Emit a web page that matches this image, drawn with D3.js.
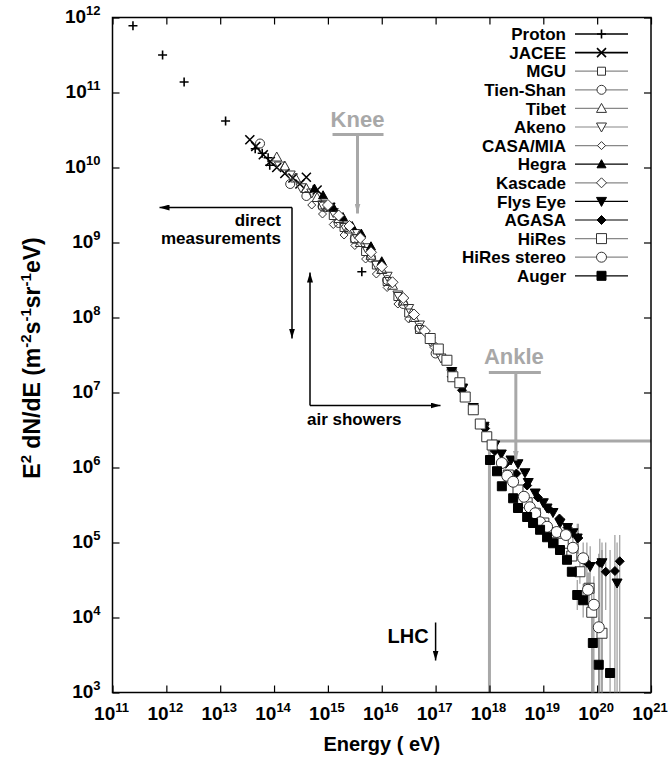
<!DOCTYPE html>
<html>
<head>
<meta charset="utf-8">
<script src="https://cdn.jsdelivr.net/npm/d3@7"></script>
<style>
  body { margin: 0; background: #fff; }
  text { font-family: "Liberation Sans", Arial, Helvetica, sans-serif; font-weight: bold; }
</style>
</head>
<body>
<div id="chart"></div>
<script>
// all values are log10: E in eV, F = E^2 dN/dE
const protonE = [11.38, 11.93, 12.33, 13.10, 13.65, 13.78, 13.89, 13.92, 15.63];
const protonF = [11.89, 11.50, 11.14, 10.62, 10.25, 10.19, 10.13, 10.03, 8.61];

const jaceeE = [13.55, 13.66, 13.80, 13.93, 14.05, 14.20, 14.35, 14.48, 14.60, 14.80, 15.05];
const jaceeF = [10.37, 10.28, 10.17, 10.08, 10.00, 9.92, 9.86, 9.78, 9.87, 9.70, 9.47];

const mguE = [14.9, 15.1, 15.3, 15.5, 15.7, 15.9, 16.1, 16.3, 16.5, 16.7];
const mguF = [9.50, 9.36, 9.20, 9.05, 8.88, 8.70, 8.48, 8.28, 8.06, 7.84];

const tienShanE = [13.74, 14.30, 14.60, 14.90, 15.20, 15.50, 15.80, 16.10, 16.40, 16.70, 17.00];
const tienShanF = [10.32, 9.78, 9.62, 9.48, 9.26, 9.05, 8.80, 8.50, 8.18, 7.86, 7.52];

const tibetE = [14.05, 14.20, 14.40, 14.60, 14.80, 15.00, 15.20, 15.40, 15.60, 15.80, 16.00, 16.20, 16.40, 16.60];
const tibetF = [10.14, 10.02, 9.86, 9.72, 9.60, 9.47, 9.32, 9.18, 9.00, 8.83, 8.64, 8.43, 8.22, 8.00];

const akenoE = [14.1, 14.3, 14.5, 14.7, 14.9, 15.1, 15.3, 15.5, 15.7, 15.9, 16.1, 16.3, 16.5, 16.7, 16.9, 17.1, 17.3, 17.5, 17.7, 17.9];
const akenoF = [10.02, 9.90, 9.73, 9.66, 9.50, 9.40, 9.22, 9.12, 8.93, 8.70, 8.55, 8.30, 8.12, 7.90, 7.68, 7.46, 7.25, 7.05, 6.78, 6.52];

const casaMiaE = [14.7, 14.9, 15.1, 15.3, 15.5, 15.7, 15.9, 16.1, 16.3, 16.5];
const casaMiaF = [9.50, 9.38, 9.24, 9.10, 8.96, 8.78, 8.58, 8.40, 8.18, 7.98];

const hegraE = [14.75, 14.91, 15.10, 15.28, 15.45, 15.62, 15.80, 16.00];
const hegraF = [9.72, 9.63, 9.47, 9.34, 9.22, 9.12, 8.95, 8.75];

const kascadeE = [15.0, 15.2, 15.4, 15.6, 15.8, 16.0, 16.2, 16.4, 16.6, 16.8, 17.0];
const kascadeF = [9.50, 9.36, 9.22, 9.06, 8.87, 8.68, 8.47, 8.26, 8.04, 7.82, 7.60];

const flysEyeE = [17.3, 17.5, 17.7, 17.9, 18.1, 18.22, 18.4, 18.53, 18.66, 18.72, 18.85, 19.0, 19.07, 19.18, 19.31, 19.45, 19.55, 19.63, 19.87, 20.09, 20.37];
const flysEyeF = [7.28, 7.06, 6.80, 6.55, 6.30, 6.18, 6.10, 6.05, 5.93, 5.80, 5.66, 5.53, 5.46, 5.40, 5.26, 5.20, 5.13, 5.06, 4.68, 4.73, 4.46];

const agasaE = [17.30, 17.49, 17.70, 17.92, 18.10, 18.30, 18.50, 18.70, 18.90, 19.10, 19.30, 19.45, 19.65, 19.81, 20.05, 20.16, 20.33, 20.42];
const agasaF = [7.21, 7.03, 6.77, 6.52, 6.22, 6.05, 5.92, 5.76, 5.60, 5.45, 5.32, 5.20, 5.06, 4.73, 4.73, 4.61, 4.62, 4.75];

const hiresE = [16.90, 17.05, 17.21, 17.32, 17.45, 17.55, 17.70, 17.83, 17.95, 18.05, 18.35, 18.53, 18.70, 18.85, 19.01, 19.18, 19.37, 19.53, 19.68, 19.85, 19.90, 20.09];
const hiresF = [7.72, 7.58, 7.43, 7.21, 7.13, 6.94, 6.77, 6.58, 6.41, 6.30, 5.90, 5.70, 5.53, 5.39, 5.26, 5.13, 4.99, 4.82, 4.61, 4.39, 4.07, 3.79];

const hiresStereoE = [18.23, 18.33, 18.44, 18.64, 18.75, 18.85, 18.94, 19.07, 19.25, 19.42, 19.55, 19.74, 19.83, 19.94, 20.03];
const hiresStereoF = [6.06, 5.89, 5.81, 5.61, 5.47, 5.39, 5.27, 5.21, 5.14, 5.10, 4.93, 4.79, 4.37, 4.17, 3.87];

const augerE = [18.01, 18.14, 18.23, 18.44, 18.53, 18.70, 18.81, 18.94, 19.07, 19.18, 19.31, 19.44, 19.53, 19.63, 19.74, 19.92, 20.03, 20.24];
const augerF = [6.10, 5.95, 5.75, 5.59, 5.46, 5.34, 5.26, 5.17, 5.07, 4.99, 4.90, 4.77, 4.61, 4.30, 4.23, 3.66, 3.37, 3.26];

// error bars: [log E, log low, log high]
const flysEyeErr = [[19.63, 4.85, 5.25], [19.87, 4.30, 4.95], [20.09, 2.5, 5.00], [20.37, 2.5, 5.00]];
const agasaErr = [[19.65, 4.85, 5.25], [19.81, 4.40, 5.00], [20.05, 2.5, 5.05], [20.16, 4.10, 5.00], [20.33, 2.5, 5.10], [20.42, 2.5, 5.10]];
const hiresErr = [[19.68, 4.45, 4.78], [19.85, 4.15, 4.60], [19.90, 2.5, 4.45], [20.09, 2.5, 4.90]];
const hiresStereoErr = [[19.55, 4.75, 5.10], [19.74, 4.55, 5.00], [19.83, 4.10, 4.60], [19.94, 2.5, 4.55], [20.03, 2.5, 4.85]];
const augerErr = [[19.63, 4.10, 4.50], [19.74, 4.00, 4.45], [19.92, 2.5, 4.20], [20.03, 2.5, 4.00], [20.24, 2.5, 4.90]];

const xTicks = [11, 12, 13, 14, 15, 16, 17, 18, 19, 20, 21];
const yTicks = [3, 4, 5, 6, 7, 8, 9, 10, 11, 12];

// annotation energies / fluxes (log10)
const kneeE = 15.55, ankleE = 18.49, lhcE = 17;
const boxE = 18, boxF = 6.353;

const series = [
  { name: "Proton", e: protonE, f: protonF, shape: "plus", size: 9, fill: "none", dark: true },
  { name: "JACEE", e: jaceeE, f: jaceeF, shape: "cross", size: 9, fill: "none", dark: true },
  { name: "MGU", e: mguE, f: mguF, shape: "square", size: 8, fill: "none" },
  { name: "Tien-Shan", e: tienShanE, f: tienShanF, shape: "circle", size: 9, fill: "none" },
  { name: "Tibet", e: tibetE, f: tibetF, shape: "triUp", size: 10, fill: "none" },
  { name: "Akeno", e: akenoE, f: akenoF, shape: "triDown", size: 10, fill: "none" },
  { name: "CASA/MIA", e: casaMiaE, f: casaMiaF, shape: "diamond", size: 8, fill: "none" },
  { name: "Hegra", e: hegraE, f: hegraF, shape: "triUp", size: 9, fill: "#000", dark: true },
  { name: "Kascade", e: kascadeE, f: kascadeF, shape: "diamond", size: 11, fill: "#fff" },
  { name: "Flys Eye", e: flysEyeE, f: flysEyeF, shape: "triDown", size: 10, fill: "#000", dark: true, err: flysEyeErr },
  { name: "AGASA", e: agasaE, f: agasaF, shape: "diamond", size: 9, fill: "#000", dark: true, err: agasaErr },
  { name: "HiRes", e: hiresE, f: hiresF, shape: "square", size: 10, fill: "#fff", err: hiresErr },
  { name: "HiRes stereo", e: hiresStereoE, f: hiresStereoF, shape: "circle", size: 11, fill: "#fff", err: hiresStereoErr },
  { name: "Auger", e: augerE, f: augerF, shape: "square", size: 9, fill: "#000", dark: true, err: augerErr }
];

const W = 668, H = 759;
const margin = { top: 17.5, right: 17, bottom: 66.5, left: 112.5 };
const width = W - margin.left - margin.right,
      height = H - margin.top - margin.bottom;

const x = d3.scaleLog().domain([1e11, 1e21]).range([0, width]);
const y = d3.scaleLog().domain([1e3, 1e12]).range([height, 0]);
const p10 = v => Math.pow(10, v);

function markerPath(shape, s) {
  const h = s / 2;
  switch (shape) {
    case "plus": return `M${-h},0H${h}M0,${-h}V${h}`;
    case "cross": return `M${-h},${-h}L${h},${h}M${-h},${h}L${h},${-h}`;
    case "square": return `M${-h},${-h}H${h}V${h}H${-h}Z`;
    case "circle": return `M${h},0A${h},${h} 0 1,1 ${-h},0A${h},${h} 0 1,1 ${h},0Z`;
    case "triUp": return `M0,${-h}L${h},${h * 0.8}L${-h},${h * 0.8}Z`;
    case "triDown": return `M0,${h}L${h},${-h * 0.8}L${-h},${-h * 0.8}Z`;
    case "diamond": return `M0,${-h}L${h},0L0,${h}L${-h},0Z`;
  }
}

const svg = d3.select("#chart")
  .append("svg")
  .attr("width", W)
  .attr("height", H);

const defs = svg.append("defs");
[["arrowBlack", "#000"], ["arrowGray", "#a8a8a8"]].forEach(([id, c]) => {
  defs.append("marker")
    .attr("id", id)
    .attr("viewBox", "0 0 10 6")
    .attr("refX", 10).attr("refY", 3)
    .attr("markerWidth", 10).attr("markerHeight", 6)
    .attr("markerUnits", "userSpaceOnUse")
    .attr("orient", "auto")
    .append("path")
    .attr("d", "M0,0L10,3L0,6Z")
    .attr("fill", c);
});
defs.append("clipPath").attr("id", "plotClip")
  .append("rect").attr("width", width).attr("height", height);

const g = svg.append("g")
  .attr("transform", `translate(${margin.left},${margin.top})`);

// gray region lines (ankle box)
g.append("path")
  .attr("d", `M${x(p10(boxE))},${height}V${y(p10(boxF))}H${width}`)
  .attr("fill", "none")
  .attr("stroke", "#a8a8a8")
  .attr("stroke-width", 3);

// axes with inward ticks
const tickFmt = () => "";
const axes = [
  g.append("g").attr("transform", `translate(0,${height})`)
    .call(d3.axisBottom(x).tickValues(xTicks.map(p10)).tickSizeInner(-7).tickSizeOuter(0).tickFormat(tickFmt)),
  g.append("g")
    .call(d3.axisTop(x).tickValues(xTicks.map(p10)).tickSizeInner(-7).tickSizeOuter(0).tickFormat(tickFmt)),
  g.append("g")
    .call(d3.axisLeft(y).tickValues(yTicks.map(p10)).tickSizeInner(-7).tickSizeOuter(0).tickFormat(tickFmt)),
  g.append("g").attr("transform", `translate(${width},0)`)
    .call(d3.axisRight(y).tickValues(yTicks.map(p10)).tickSizeInner(-7).tickSizeOuter(0).tickFormat(tickFmt))
];
axes.forEach(a => {
  a.select(".domain").remove();
  a.selectAll(".tick line").attr("stroke", "#000").attr("stroke-width", 1.2);
});

g.append("rect")
  .attr("width", width).attr("height", height)
  .attr("fill", "none").attr("stroke", "#000").attr("stroke-width", 1.5);

// tick labels
xTicks.forEach(t => {
  const tx = g.append("text")
    .attr("x", x(p10(t)) - 1)
    .attr("y", height + 27)
    .attr("text-anchor", "middle")
    .attr("font-size", 19);
  tx.append("tspan").text("10");
  tx.append("tspan").attr("font-size", 13).attr("dy", -8).text(t);
});
yTicks.forEach(t => {
  const ty = g.append("text")
    .attr("x", -12)
    .attr("y", y(p10(t)) + 5)
    .attr("text-anchor", "end")
    .attr("font-size", 19);
  ty.append("tspan").text("10");
  ty.append("tspan").attr("font-size", 13).attr("dy", -8).text(t);
});

// axis titles
g.append("text")
  .attr("x", width / 2)
  .attr("y", height + 58)
  .attr("text-anchor", "middle")
  .attr("font-size", 20)
  .text("Energy ( eV)");

const yt = svg.append("text")
  .attr("transform", "translate(40,358) rotate(-90)")
  .attr("text-anchor", "middle")
  .attr("font-size", 23);
yt.append("tspan").text("E");
yt.append("tspan").attr("font-size", 15).attr("dy", -9).text("2");
yt.append("tspan").attr("dy", 9).text(" dN/dE (m");
yt.append("tspan").attr("font-size", 15).attr("dy", -9).text("-2");
yt.append("tspan").attr("dy", 9).text("s");
yt.append("tspan").attr("font-size", 15).attr("dy", -9).text("-1");
yt.append("tspan").attr("dy", 9).text("sr");
yt.append("tspan").attr("font-size", 15).attr("dy", -9).text("-1");
yt.append("tspan").attr("dy", 9).text("eV)");

// error bars
const plot = g.append("g").attr("clip-path", "url(#plotClip)");
series.filter(s => s.err).forEach(s => {
  plot.selectAll(null)
    .data(s.err)
    .join("line")
    .attr("x1", d => x(p10(d[0]))).attr("x2", d => x(p10(d[0])))
    .attr("y1", d => y(p10(d[1]))).attr("y2", d => y(p10(d[2])))
    .attr("stroke", "#888")
    .attr("stroke-width", 1);
});

// data points
series.forEach(s => {
  plot.selectAll(null)
    .data(s.e.map((e, i) => [e, s.f[i]]))
    .join("path")
    .attr("transform", d => `translate(${x(p10(d[0]))},${y(p10(d[1]))})`)
    .attr("d", markerPath(s.shape, s.size))
    .attr("fill", s.fill)
    .attr("stroke", s.dark ? "#000" : "#333")
    .attr("stroke-width", s.shape === "plus" || s.shape === "cross" ? 1.6 : 1);
});

// legend
const legend = svg.selectAll(".legend")
  .data(series)
  .join("g")
  .attr("class", "legend")
  .attr("transform", (d, i) => `translate(0,${34 + i * 18.6})`);

legend.append("text")
  .attr("x", 566)
  .attr("dy", "0.36em")
  .attr("text-anchor", "end")
  .attr("font-size", 17)
  .text(d => d.name);

legend.append("line")
  .attr("x1", 575).attr("x2", 628)
  .attr("stroke", d => d.dark ? "#000" : "#888")
  .attr("stroke-width", d => d.shape === "plus" || d.shape === "cross" ? 1.6 : 1.2);

legend.append("path")
  .attr("transform", "translate(601.5,0)")
  .attr("d", d => markerPath(d.shape, Math.min(d.size, 10)))
  .attr("fill", d => d.fill === "none" ? "#fff" : d.fill)
  .attr("stroke", d => d.dark ? "#000" : "#333")
  .attr("stroke-width", d => d.shape === "plus" || d.shape === "cross" ? 1.6 : 1);

// annotations
const ann = g.append("g");
function arrow(x1, y1, x2, y2, color, w) {
  ann.append("line")
    .attr("x1", x1).attr("y1", y1).attr("x2", x2).attr("y2", y2)
    .attr("stroke", color).attr("stroke-width", w)
    .attr("marker-end", color === "#000" ? "url(#arrowBlack)" : "url(#arrowGray)");
}
function bar(x1, x2, yy) {
  ann.append("line")
    .attr("x1", x1).attr("x2", x2).attr("y1", yy).attr("y2", yy)
    .attr("stroke", "#a8a8a8").attr("stroke-width", 3);
}

// knee
const kx = x(p10(kneeE));
bar(kx - 25, kx + 26, 117);
arrow(kx, 117, kx, 196, "#a8a8a8", 3);
ann.append("text").attr("x", kx).attr("y", 109).attr("text-anchor", "middle")
  .attr("font-size", 22).attr("fill", "#a8a8a8").text("Knee");

// ankle
const ax = x(p10(ankleE));
bar(ax - 27, ax + 25, 355);
arrow(ax, 355, ax, 443, "#a8a8a8", 3);
ann.append("text").attr("x", ax - 2).attr("y", 346).attr("text-anchor", "middle")
  .attr("font-size", 22).attr("fill", "#a8a8a8").text("Ankle");

// LHC
const lx = x(p10(lhcE));
arrow(lx, 605, lx, 643, "#000", 1.5);
ann.append("text").attr("x", lx - 7).attr("y", 625).attr("text-anchor", "end")
  .attr("font-size", 20).text("LHC");

// direct measurements
const dmX = 179.5;
arrow(dmX, 190, 47, 190, "#000", 1.5);
arrow(dmX, 190, dmX, 321, "#000", 1.5);
ann.append("text").attr("x", dmX - 11).attr("y", 208).attr("text-anchor", "end")
  .attr("font-size", 17).text("direct");
ann.append("text").attr("x", dmX - 11).attr("y", 226).attr("text-anchor", "end")
  .attr("font-size", 17).text("measurements");

// air showers
const asX = 197.5;
arrow(asX, 388, asX, 255, "#000", 1.5);
arrow(asX, 388, 328, 388, "#000", 1.5);
ann.append("text").attr("x", asX - 3).attr("y", 407)
  .attr("font-size", 17).text("air showers");
</script>
</body>
</html>
